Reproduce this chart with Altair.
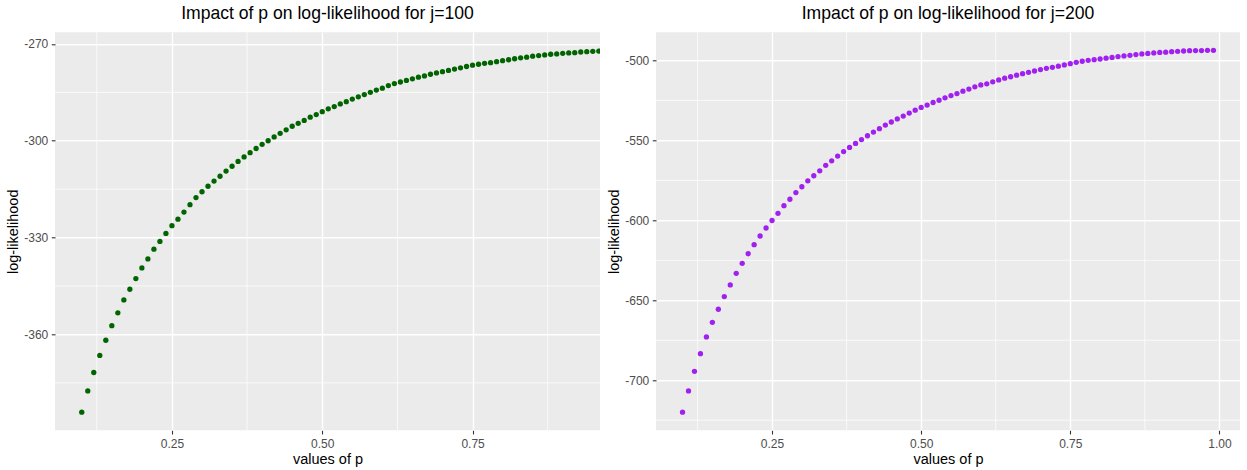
import altair as alt
import pandas as pd

# ---- data ----
p_values = [0.10, 0.11, 0.12, 0.13, 0.14, 0.15, 0.16, 0.17, 0.18, 0.19,
            0.20, 0.21, 0.22, 0.23, 0.24, 0.25, 0.26, 0.27, 0.28, 0.29,
            0.30, 0.31, 0.32, 0.33, 0.34, 0.35, 0.36, 0.37, 0.38, 0.39,
            0.40, 0.41, 0.42, 0.43, 0.44, 0.45, 0.46, 0.47, 0.48, 0.49,
            0.50, 0.51, 0.52, 0.53, 0.54, 0.55, 0.56, 0.57, 0.58, 0.59,
            0.60, 0.61, 0.62, 0.63, 0.64, 0.65, 0.66, 0.67, 0.68, 0.69,
            0.70, 0.71, 0.72, 0.73, 0.74, 0.75, 0.76, 0.77, 0.78, 0.79,
            0.80, 0.81, 0.82, 0.83, 0.84, 0.85, 0.86, 0.87, 0.88, 0.89,
            0.90, 0.91, 0.92, 0.93, 0.94, 0.95, 0.96, 0.97, 0.98, 0.99]

loglik_j100 = [-384.1, -377.5, -371.8, -366.5, -361.8, -357.3, -353.3, -349.3, -346.0, -342.7,
               -339.4, -336.6, -333.6, -331.2, -328.7, -326.3, -324.3, -322.1, -319.8, -317.6,
               -315.8, -314.1, -312.5, -311.0, -309.4, -307.9, -306.4, -305.0, -303.7, -302.4,
               -301.1, -300.0, -298.8, -297.7, -296.6, -295.5, -294.6, -293.7, -292.7, -291.9,
               -291.0, -290.1, -289.4, -288.6, -287.9, -287.1, -286.4, -285.7, -285.0, -284.3,
               -283.7, -282.9, -282.3, -281.8, -281.3, -280.8, -280.3, -279.9, -279.4, -279.0,
               -278.6, -278.2, -277.8, -277.4, -277.0, -276.6, -276.3, -276.0, -275.8, -275.5,
               -275.2, -274.9, -274.6, -274.3, -274.1, -273.8, -273.6, -273.4, -273.2, -273.1,
               -272.9, -272.8, -272.7, -272.5, -272.4, -272.3, -272.2, -272.1, -272.1, -272.0]

loglik_j200 = [-720.0, -706.7, -694.4, -683.4, -672.9, -663.8, -655.6, -647.7, -640.4, -633.1,
               -626.9, -620.9, -615.2, -609.8, -604.8, -600.1, -595.6, -590.8, -586.8, -582.6,
               -579.0, -575.3, -572.1, -569.0, -565.6, -562.8, -559.8, -557.0, -554.4, -551.9,
               -549.5, -547.1, -544.8, -542.7, -540.4, -538.5, -536.6, -534.8, -532.9, -531.1,
               -529.4, -527.9, -526.3, -524.9, -523.4, -522.0, -520.7, -519.2, -517.9, -516.5,
               -515.3, -514.6, -513.4, -512.2, -511.1, -510.2, -509.2, -508.3, -507.4, -506.6,
               -505.7, -504.9, -504.3, -503.6, -502.8, -502.0, -501.2, -500.5, -499.9, -499.5,
               -499.1, -498.6, -498.1, -497.6, -497.2, -496.8, -496.3, -495.9, -495.6, -495.3,
               -495.0, -494.8, -494.5, -494.3, -494.1, -493.9, -493.8, -493.8, -493.7, -493.7]

x_ticks_left = [0.25, 0.50, 0.75]
x_ticks_right = [0.25, 0.50, 0.75, 1.00]
x_minor_left = [0.125, 0.375, 0.625, 0.875]
x_minor_right = [0.125, 0.375, 0.625, 0.875]
y_ticks_left = [-270, -300, -330, -360]
y_minor_left = [-285, -315, -345, -375]
y_ticks_right = [-500, -550, -600, -650, -700]
y_minor_right = [-525, -575, -625, -675, -725]

title_left = "Impact of p on log-likelihood for j=100"
title_right = "Impact of p on log-likelihood for j=200"
x_title = "values of p"
y_title = "log-likelihood"

FONT = "Liberation Sans"


def panel(values, color, title, xdom, ydom, xt, xm, yt, ym, width, height):
    df = pd.DataFrame({"p": p_values, "ll": values})
    xscale = alt.Scale(domain=xdom, nice=False, zero=False)
    yscale = alt.Scale(domain=ydom, nice=False, zero=False)
    xaxis = alt.Axis(values=xt, format=".2f", title=x_title, labelFlush=False)
    yaxis = alt.Axis(values=yt, title=y_title, labelExpr="'' + datum.value")

    xminor = alt.Chart(pd.DataFrame({"p": xm})).mark_rule(
        color="white", strokeWidth=0.7
    ).encode(x=alt.X("p:Q", scale=xscale, axis=xaxis))
    yminor = alt.Chart(pd.DataFrame({"ll": ym})).mark_rule(
        color="white", strokeWidth=0.7
    ).encode(y=alt.Y("ll:Q", scale=yscale, axis=yaxis))
    pts = alt.Chart(df).mark_circle(size=28, color=color, opacity=1, clip=True).encode(
        x=alt.X("p:Q", scale=xscale, axis=xaxis),
        y=alt.Y("ll:Q", scale=yscale, axis=yaxis),
    )
    return alt.layer(xminor, yminor, pts).properties(
        width=width, height=height,
        title=alt.TitleParams(text=title),
    )


left = panel(loglik_j100, "#006400", title_left, [0.0555, 0.962], [-389.7, -266.4],
             x_ticks_left, x_minor_left, y_ticks_left, y_minor_left, 545, 398)
right = panel(loglik_j200, "#A020F0", title_right, [0.0555, 1.0345], [-731.3, -482.4],
              x_ticks_right, x_minor_right, y_ticks_right, y_minor_right, 584, 398)

chart = alt.hconcat(left, right, spacing=56, bounds="flush").properties(
    padding={"left": 5, "top": 5.3, "right": 0, "bottom": 0},
    background="white",
).configure_view(
    fill="#EBEBEB", strokeWidth=0
).configure_axis(
    domain=False, grid=True, gridColor="white", gridWidth=1.4,
    tickColor="#333333", tickSize=3.7, tickWidth=1.1,
    labelFont=FONT, labelFontSize=12, labelColor="#4D4D4D", labelPadding=5,
    titleFont=FONT, titleFontSize=14.5, titleColor="black", titleFontWeight="normal",
).configure_axisX(
    titlePadding=3
).configure_axisY(
    labelPadding=3.5, titlePadding=3
).configure_title(
    font=FONT, fontSize=17.6, fontWeight="normal", color="black",
    anchor="middle", offset=9, baseline="alphabetic"
)

chart.save("out.html", embed_options={"renderer": "svg", "actions": False})
